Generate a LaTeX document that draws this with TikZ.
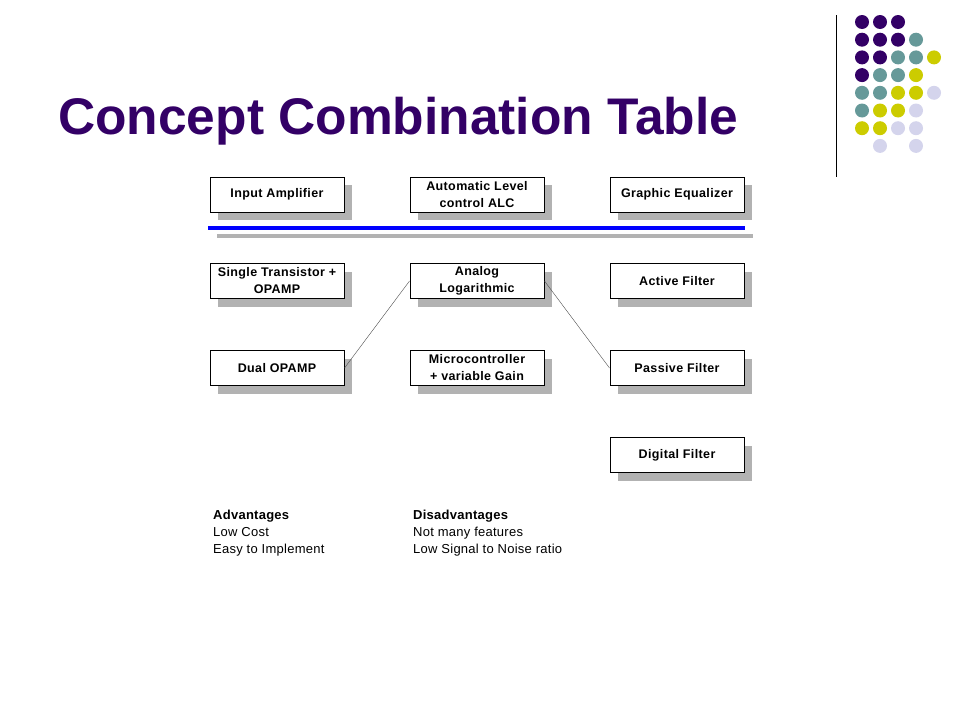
\documentclass[tikz,border=0pt]{standalone}
\usepackage{fontspec}
\setmainfont{Liberation Sans}
\definecolor{tpurple}{HTML}{330066}
\definecolor{tteal}{HTML}{669999}
\definecolor{tyellow}{HTML}{CCCC00}
\definecolor{tlav}{HTML}{D4D4EC}
\tikzset{
 blk/.style={draw=black,line width=1pt,fill=white,minimum width=134pt,minimum height=35pt,inner sep=1pt,align=center,font=\fontsize{12.5}{17}\selectfont\bfseries\addfontfeatures{LetterSpace=3},
   preaction={draw=none,fill=black!30,transform canvas={xshift=8pt,yshift=-8pt}}},
 dot/.style={circle,minimum size=14pt,inner sep=0pt,fill=#1},
 note/.style={anchor=north west,align=left,font=\fontsize{13}{17}\selectfont\addfontfeatures{LetterSpace=2},inner sep=0pt}
}
\begin{document}
\begin{tikzpicture}[x=1pt,y=-1pt]
\useasboundingbox (0,0) rectangle (960,720);
\draw[line width=1pt] (836,15) -- (836,177);
\foreach \r/\cols in {0/{P,P,P},1/{P,P,P,T},2/{P,P,T,T,Y},3/{P,T,T,Y},4/{T,T,Y,Y,L},5/{T,Y,Y,L},6/{Y,Y,L,L},7/{N,L,N,L}}{
 \foreach \c [count=\i from 0] in \cols {
  \if\c N\else
   \def\cc{tpurple}\if\c T\def\cc{tteal}\fi\if\c Y\def\cc{tyellow}\fi\if\c L\def\cc{tlav}\fi
   \node[dot=\cc] (d\r\i) at (862+18*\i,22+17.7*\r) {};
  \fi}}
\node[anchor=base west,inner sep=0pt,text=tpurple,font=\fontsize{51.5}{56}\selectfont\bfseries] (title) at (58,134) {Concept Combination Table};
\draw[blue,line width=4pt] (208,228) -- (745,228);
\draw[black!30,line width=4pt] (217,236) -- (753,236);
\node[blk] (ia) at (277,194.5) {Input Amplifier};
\node[blk] (alc) at (477,194.5) {Automatic Level\\control ALC};
\node[blk] (ge) at (677,194.5) {Graphic Equalizer};
\node[blk] (st) at (277,281) {Single Transistor +\\OPAMP};
\node[blk] (al) at (477,281) {Analog\\Logarithmic};
\node[blk] (af) at (677,281) {Active Filter};
\node[blk] (do) at (277,368) {Dual OPAMP};
\node[blk] (mc) at (477,368) {Microcontroller\\+ variable Gain};
\node[blk] (pf) at (677,368) {Passive Filter};
\node[blk] (df) at (677,455) {Digital Filter};
\draw[black!70] (do.east) -- (al.west);
\draw[black!70] (al.east) -- (pf.west);
\node[note] (adv) at (213,510) {\textbf{Advantages}\\Low Cost\\Easy to Implement};
\node[note] (dis) at (413,510) {\textbf{Disadvantages}\\Not many features\\Low Signal to Noise ratio};
\end{tikzpicture}
\end{document}
